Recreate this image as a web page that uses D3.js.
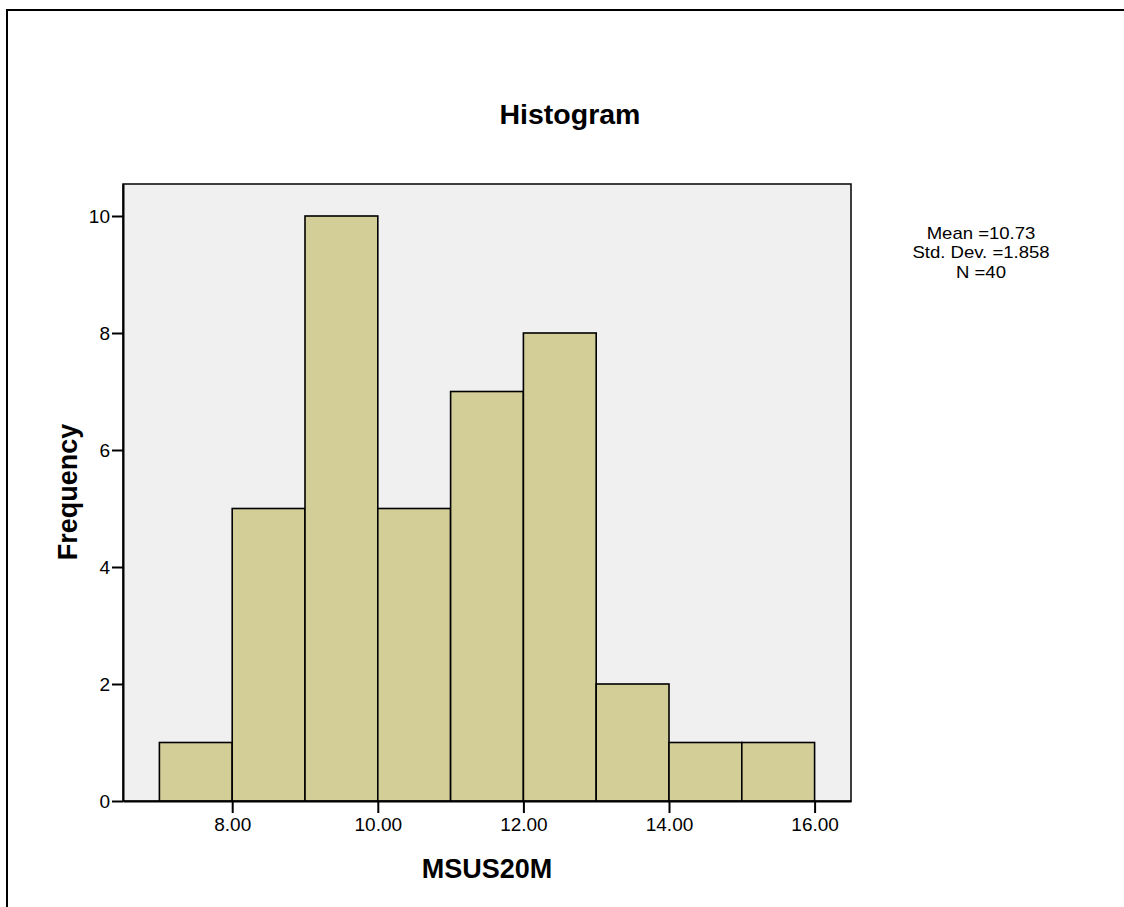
<!DOCTYPE html>
<html><head><meta charset="utf-8">
<script src="https://cdn.jsdelivr.net/npm/d3@7"></script>
<style>body{margin:0;background:#fff}svg{display:block}text{font-family:"Liberation Sans",Arial,sans-serif}</style>
</head><body>
<svg id="c" width="1124" height="907"></svg>
<script>
const binStarts = [7, 8, 9, 10, 11, 12, 13, 14, 15];
const binWidth = 1;
const frequencies = [1, 5, 10, 5, 7, 8, 2, 1, 1];
const xTicks = [8, 10, 12, 14, 16];
const yTicks = [0, 2, 4, 6, 8, 10];
const statsLines = ["Mean =10.73", "Std. Dev. =1.858", "N =40"];

const svg = d3.select("#c");
const L = 123, R = 851, T = 184, B = 801;
const x = d3.scaleLinear().domain([6.5, 16.5]).range([L, R]);
const y = d3.scaleLinear().domain([0, 10.547]).range([B, T]);
const FF = '"Liberation Sans",Arial,sans-serif';

// outer frame
svg.append("rect").attr("x", 7).attr("y", 10).attr("width", 1130).attr("height", 920)
  .attr("fill", "none").attr("stroke", "#000").attr("stroke-width", 2);

// plot background
svg.append("rect").attr("x", L).attr("y", T).attr("width", R - L).attr("height", B - T)
  .attr("fill", "#f0f0f0").attr("stroke", "#000").attr("stroke-width", 1.5);

// bars
svg.append("g").selectAll("rect").data(frequencies).join("rect")
  .attr("x", (d, i) => x(binStarts[i]))
  .attr("width", (d, i) => x(binStarts[i] + binWidth) - x(binStarts[i]))
  .attr("y", d => y(d))
  .attr("height", d => y(0) - y(d))
  .attr("fill", "#d3ce97").attr("stroke", "#000").attr("stroke-width", 1.6);

// axes
const xAxis = d3.axisBottom(x).tickValues(xTicks).tickFormat(d3.format(".2f")).tickSize(12).tickPadding(5).tickSizeOuter(0);
const gx = svg.append("g").attr("transform", `translate(0,${B})`).call(xAxis)
  .attr("font-size", 19).attr("font-family", FF);
gx.select(".domain").attr("stroke", "#000").attr("stroke-width", 2);
gx.selectAll(".tick line").attr("stroke", "#000").attr("stroke-width", 2);
gx.selectAll("text").attr("fill", "#000");

const yAxis = d3.axisLeft(y).tickValues(yTicks).tickFormat(d3.format("d")).tickSize(11).tickPadding(2).tickSizeOuter(0);
const gy = svg.append("g").attr("transform", `translate(${L},0)`).call(yAxis)
  .attr("font-size", 19).attr("font-family", FF);
gy.select(".domain").attr("stroke", "#000").attr("stroke-width", 2);
gy.selectAll(".tick line").attr("stroke", "#000").attr("stroke-width", 2);
gy.selectAll("text").attr("fill", "#000");

// title
svg.append("text").attr("x", 570).attr("y", 124).attr("text-anchor", "middle")
  .attr("font-size", 28.5).attr("font-weight", "bold").text("Histogram");
// x label
svg.append("text").attr("x", 487).attr("y", 878).attr("text-anchor", "middle")
  .attr("font-size", 27).attr("font-weight", "bold").text("MSUS20M");
// y label
svg.append("text").attr("transform", "translate(77,492) rotate(-90)").attr("text-anchor", "middle")
  .attr("font-size", 27).attr("font-weight", "bold").text("Frequency");

// stats (slightly widened to match the reference's compact line spacing)
svg.append("g").selectAll("text").data(statsLines).join("text")
  .attr("x", 981).attr("y", (d, i) => 238.5 + i * 19.5).attr("text-anchor", "middle")
  .attr("font-size", 17).text(d => d)
  .each(function () {
    const w = this.getComputedTextLength();
    d3.select(this).attr("textLength", w * 1.09).attr("lengthAdjust", "spacingAndGlyphs");
  });
</script>
</body></html>
